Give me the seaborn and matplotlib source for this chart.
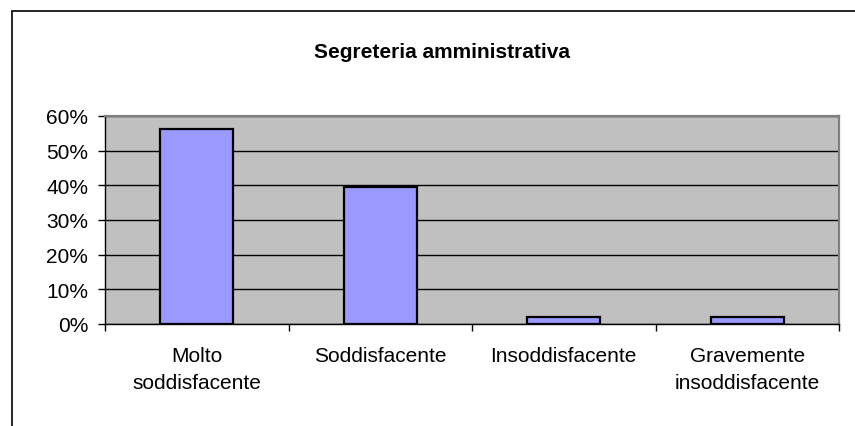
import matplotlib
matplotlib.use("Agg")
import matplotlib.pyplot as plt
import seaborn as sns
import pandas as pd
from matplotlib.ticker import FixedLocator, FuncFormatter
from matplotlib.patches import Rectangle

categories = ["Molto\nsoddisfacente", "Soddisfacente", "Insoddisfacente", "Gravemente\ninsoddisfacente"]
values = [0.5625, 0.3958, 0.0208, 0.0208]
title = "Segreteria amministrativa"
yticks = [0.0, 0.1, 0.2, 0.3, 0.4, 0.5, 0.6]

df = pd.DataFrame({"cat": categories, "val": values})

sns.set_theme(style="white")
plt.rcParams["font.family"] = ["Liberation Sans", "DejaVu Sans"]

fig = plt.figure(figsize=(8.55, 4.27), dpi=100)
W, H = 855, 427
ax = fig.add_axes([105 / W, 1 - 325 / H, (839 - 105) / W, (325 - 117) / H])
ax.set_facecolor("#C0C0C0")
ax.set_axisbelow(True)

sns.barplot(data=df, x="cat", y="val", color="#9999FF", width=0.40,
            edgecolor="black", linewidth=1.6, saturation=1, ax=ax)

ax.set_ylim(0, 0.6)
ax.set_xlim(-0.5, 3.5)
ax.yaxis.set_major_locator(FixedLocator(yticks))
ax.yaxis.set_major_formatter(FuncFormatter(lambda v, p: f"{v*100:.0f}%"))
ax.grid(axis="y", color="black", linewidth=1.0)
ax.grid(axis="x", visible=False)
ax.set_xlabel("")
ax.set_ylabel("")

# x ticks at category boundaries, labels centered
ax.set_xticks([0, 1, 2, 3])
ax.set_xticklabels(categories, fontsize=15, color="black", linespacing=1.5)
ax.tick_params(axis="x", length=0, pad=16)
ax.set_xticks([-0.5, 0.5, 1.5, 2.5, 3.5], minor=True)
ax.tick_params(axis="x", which="minor", length=5, width=1, color="black", direction="out", bottom=True)
ax.tick_params(axis="y", length=5, width=1, color="black", direction="out", left=True,
               labelsize=15, labelcolor="black", pad=7)

for side in ["left", "bottom"]:
    ax.spines[side].set_color("black")
    ax.spines[side].set_linewidth(1.0)
for side in ["top", "right"]:
    ax.spines[side].set_color("#808080")
    ax.spines[side].set_linewidth(1.6)
    ax.spines[side].set_visible(True)

fig.text(442 / W, 1 - 57.7 / H, title, ha="center", va="baseline", fontsize=15,
         fontweight="bold", color="black")

# figure border (chart area frame)
fig.patches.append(Rectangle((12 / W, -0.1), 1.2, 1 - 12 / H + 0.1, transform=fig.transFigure,
                             fill=False, edgecolor="black", linewidth=1.2))

fig.savefig("out.png", dpi=100)
